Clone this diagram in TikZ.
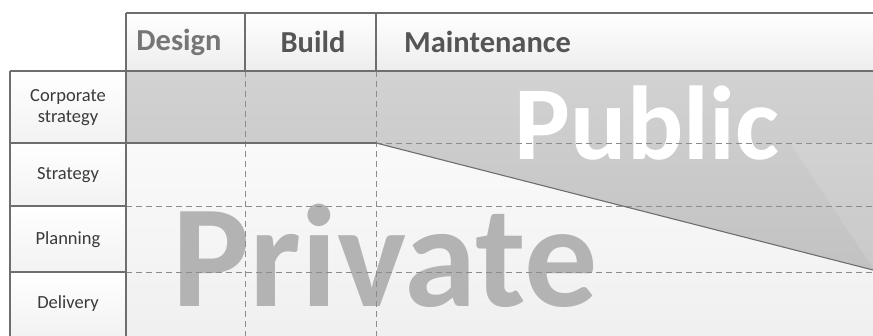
\documentclass[tikz,border=0pt]{standalone}
\usepackage{fontspec}
\setmainfont{Carlito}
\definecolor{gridline}{HTML}{6E6E6E}
\definecolor{dashline}{HTML}{8C8C8C}
\definecolor{pubtop}{HTML}{D2D2D2}
\definecolor{pubbot}{HTML}{C2C2C2}
\definecolor{privtxt}{HTML}{B3B3B3}
\definecolor{hdrdark}{HTML}{555555}
\definecolor{hdrlight}{HTML}{767676}
\definecolor{rowtxt}{HTML}{3A3A3A}
\tikzset{
  solidline/.style={draw=gridline, line width=1.1pt},
  dashline/.style={draw=dashline, line width=0.9pt, dash pattern=on 6pt off 4pt},
  hdrlabel/.style={font=\bfseries\fontsize{30.5}{31}\selectfont, inner sep=0pt},
  rowlabel/.style={font=\fontsize{18.5}{21}\selectfont, text=rowtxt, align=center, inner sep=0pt},
}
\begin{document}
\begin{tikzpicture}[x=1pt,y=-1pt]
\useasboundingbox (0,0) rectangle (873,336);
% backgrounds
\shade[top color=white, bottom color=black!7] (126,13) rectangle (873,71);
\foreach \a/\b in {71/143,143/206,206/272,272/336}{
  \shade[top color=white, bottom color=black!5] (10,\a) rectangle (126,\b);
}
\shade[top color=black!2, bottom color=black!6] (126,143) rectangle (873,336);
\shade[top color=pubtop, bottom color=pubbot] (126,71) -- (873,71) -- (873,270) -- (376,143) -- (126,143) -- cycle;
\fill[white, opacity=0.12] (790,143) -- (873,143) -- (873,268) -- cycle;
% texts
\node[hdrlabel, text=hdrlight] (design) at (179,42) {Design};
\node[hdrlabel, text=hdrdark] (build) at (313,42) {Build};
\node[hdrlabel, text=hdrdark, anchor=west] (maint) at (404,42) {Maintenance};
\node[rowlabel] (corp) at (68,108) {Corporate\\strategy};
\node[rowlabel] (strat) at (68,175) {Strategy};
\node[rowlabel] (plan) at (68,240) {Planning};
\node[rowlabel] (deliv) at (68,304) {Delivery};
\node[font=\bfseries\fontsize{105}{105}\selectfont, text=white, inner sep=0pt, anchor=base] (public) at (647,160) {Public};
\node[font=\bfseries\fontsize{146}{146}\selectfont, text=privtxt, inner sep=0pt, anchor=base] (private) at (385,307) {Private};
% dashed grid
\draw[dashline] (376,143) -- (873,143);
\draw[dashline] (126,206) -- (873,206);
\draw[dashline] (126,272) -- (873,272);
\draw[dashline] (245,71) -- (245,336);
\draw[dashline] (376,71) -- (376,336);
% solid grid
\draw[solidline] (126,13) -- (873,13);
\draw[solidline] (10,71) -- (873,71);
\draw[solidline] (126,13) -- (126,336);
\draw[solidline] (245,13) -- (245,71);
\draw[solidline] (376,13) -- (376,71);
\draw[solidline] (10,71) -- (10,336);
\draw[solidline] (10,143) -- (376,143);
\draw[solidline] (10,206) -- (126,206);
\draw[solidline] (10,272) -- (126,272);
\draw[solidline] (376,143) -- (873,270);
\end{tikzpicture}
\end{document}
